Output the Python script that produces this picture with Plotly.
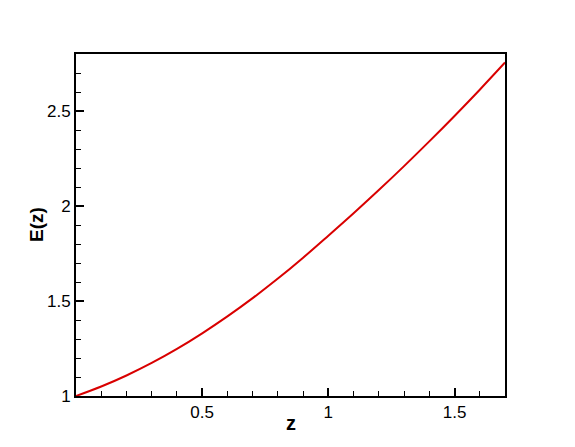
import plotly.graph_objects as go

# values
z_values = [0.0, 0.1, 0.2, 0.3, 0.4, 0.5, 0.6, 0.7, 0.8, 0.9,
            1.0, 1.1, 1.2, 1.3, 1.4, 1.5, 1.6, 1.7]
e_values = [1.000, 1.050, 1.108, 1.174, 1.248, 1.330, 1.419, 1.515, 1.618, 1.728,
            1.844, 1.962, 2.084, 2.210, 2.340, 2.474, 2.612, 2.755]

x_ticks = [0.5, 1, 1.5]
y_ticks = [1, 1.5, 2, 2.5]

font_family = "Liberation Sans, Arial, sans-serif"

fig = go.Figure()
fig.add_trace(go.Scatter(
    x=z_values,
    y=e_values,
    mode='lines',
    line=dict(color='#d90000', width=2, shape='spline'),
    showlegend=False
))

axis_common = dict(
    showline=True,
    linecolor='black',
    linewidth=2,
    mirror=True,
    ticks='inside',
    ticklen=8,
    tickwidth=2,
    tickcolor='black',
    showgrid=False,
    zeroline=False,
    automargin=False,
    tickfont=dict(family=font_family, size=17, color='black'),
)

# page body adds an 8px offset, so margins are shifted to compensate
fig.update_layout(
    width=575,
    height=447,
    margin=dict(l=68, r=78, t=46, b=59),
    plot_bgcolor='white',
    paper_bgcolor='white',
    xaxis=dict(
        range=[0, 1.7],
        tickvals=x_ticks,
        ticktext=[str(v) for v in x_ticks],
        minor=dict(dtick=0.1, ticks='inside', ticklen=5, tickwidth=1, tickcolor='black'),
        **axis_common
    ),
    yaxis=dict(
        range=[1, 2.8],
        tickvals=y_ticks,
        ticktext=[str(v) for v in y_ticks],
        minor=dict(dtick=0.1, ticks='inside', ticklen=5, tickwidth=1, tickcolor='black'),
        **axis_common
    ),
)

# axis titles placed as annotations to match the reference spacing
fig.add_annotation(
    text='<b>z</b>', xref='paper', yref='paper', x=0.5, y=0,
    yshift=-27, yanchor='middle', showarrow=False,
    font=dict(family=font_family, size=20, color='black')
)
fig.add_annotation(
    text='<b>E(z)</b>', xref='paper', yref='paper', x=0, y=0.5,
    xshift=-40, xanchor='center', textangle=-90, showarrow=False,
    font=dict(family=font_family, size=19, color='black')
)

fig.write_html("out.html")
